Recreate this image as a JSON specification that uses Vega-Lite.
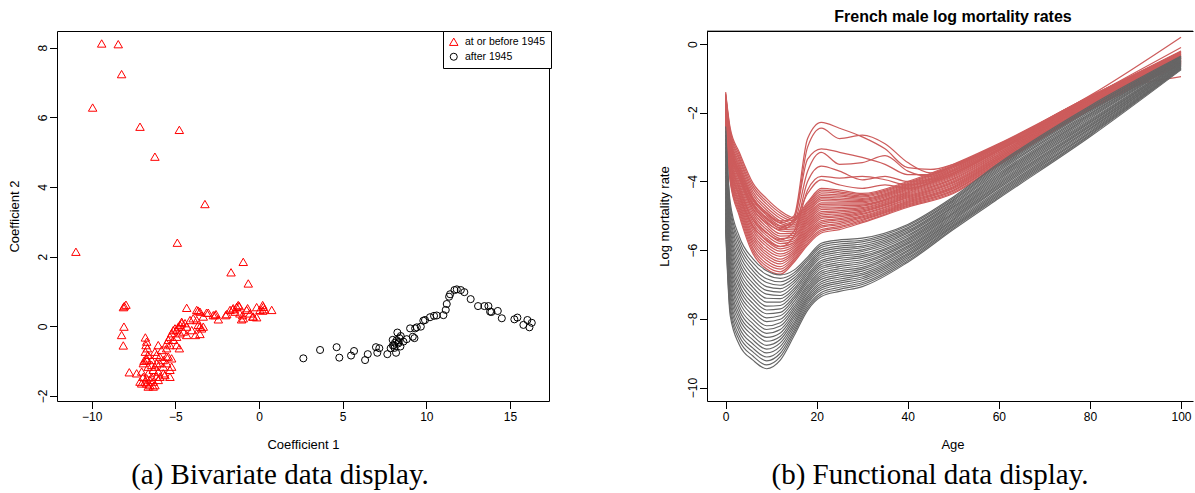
{
"$schema": "https://vega.github.io/schema/vega-lite/v6.json",
"padding": {"left": 8, "top": 8, "right": 0, "bottom": 0},
"background": "white",
"config": {
  "font": "Liberation Sans",
  "view": {"stroke": "black", "strokeWidth": 1},
  "axis": {"grid": false, "domain": false, "domainColor": "black", "domainWidth": 1, "tickColor": "black", "tickSize": 7.5, "tickWidth": 1, "labelColor": "black", "labelFont": "Liberation Sans", "labelFontSize": 12, "labelPadding": 3, "labelFlush": false, "labelOverlap": false, "titleFont": "Liberation Sans", "titleFontSize": 13, "titleFontWeight": "normal", "titleColor": "black"},
  "axisX": {"titleY": 47, "titleBaseline": "alphabetic"},
  "axisY": {"labelAngle": -90, "labelAlign": "center", "labelBaseline": "alphabetic", "titleAngle": -90, "titleX": -38.5, "titleY": 185, "titleAlign": "center", "titleBaseline": "alphabetic"},
  "legend": {"orient": "none", "legendX": 386, "legendY": 0, "padding": 5.5, "strokeColor": "black", "fillColor": "white", "labelFont": "Liberation Sans", "labelFontSize": 10.5, "labelColor": "black", "symbolSize": 45, "symbolStrokeWidth": 1, "labelOffset": 6, "rowPadding": 3, "cornerRadius": 0}
},
"datasets": {
"pts": [
{"x":-9.40,"y":8.12,"p":"at or before 1945"},{"x":-8.41,"y":8.10,"p":"at or before 1945"},{"x":-8.21,"y":7.24,"p":"at or before 1945"},{"x":-9.94,"y":6.28,"p":"at or before 1945"},{"x":-7.11,"y":5.73,"p":"at or before 1945"},{"x":-4.76,"y":5.64,"p":"at or before 1945"},{"x":-6.22,"y":4.87,"p":"at or before 1945"},{"x":-3.23,"y":3.51,"p":"at or before 1945"},{"x":-4.88,"y":2.40,"p":"at or before 1945"},{"x":-10.94,"y":2.14,"p":"at or before 1945"},
{"x":-1.67,"y":1.55,"p":"at or before 1945"},{"x":-0.94,"y":1.85,"p":"at or before 1945"},{"x":-0.64,"y":1.23,"p":"at or before 1945"},{"x":-4.32,"y":0.53,"p":"at or before 1945"},{"x":-8.05,"y":0.58,"p":"at or before 1945"},{"x":-7.95,"y":0.62,"p":"at or before 1945"},{"x":-8.10,"y":0.55,"p":"at or before 1945"},{"x":-8.07,"y":-0.01,"p":"at or before 1945"},{"x":-8.21,"y":-0.25,"p":"at or before 1945"},{"x":-8.11,"y":-0.55,"p":"at or before 1945"},
{"x":-7.75,"y":-1.32,"p":"at or before 1945"},{"x":-7.31,"y":-1.35,"p":"at or before 1945"},{"x":-3.63,"y":0.45,"p":"at or before 1945"},{"x":-3.13,"y":0.39,"p":"at or before 1945"},{"x":-2.63,"y":0.32,"p":"at or before 1945"},{"x":-2.43,"y":0.20,"p":"at or before 1945"},{"x":-1.99,"y":0.32,"p":"at or before 1945"},{"x":-1.57,"y":0.49,"p":"at or before 1945"},{"x":-1.33,"y":0.56,"p":"at or before 1945"},{"x":-1.18,"y":0.58,"p":"at or before 1945"},
{"x":-1.43,"y":0.42,"p":"at or before 1945"},{"x":-0.98,"y":0.32,"p":"at or before 1945"},{"x":-1.04,"y":0.20,"p":"at or before 1945"},{"x":-0.68,"y":0.52,"p":"at or before 1945"},{"x":-0.54,"y":0.37,"p":"at or before 1945"},{"x":-0.38,"y":0.28,"p":"at or before 1945"},{"x":-0.14,"y":0.26,"p":"at or before 1945"},{"x":-0.14,"y":0.55,"p":"at or before 1945"},{"x":0.22,"y":0.61,"p":"at or before 1945"},{"x":0.32,"y":0.49,"p":"at or before 1945"},
{"x":0.76,"y":0.47,"p":"at or before 1945"},{"x":0.22,"y":0.45,"p":"at or before 1945"},{"x":-7.11,"y":-1.59,"p":"at or before 1945"},{"x":-7.01,"y":-1.64,"p":"at or before 1945"},{"x":-6.71,"y":-1.64,"p":"at or before 1945"},{"x":-6.62,"y":-1.73,"p":"at or before 1945"},{"x":-6.52,"y":-1.69,"p":"at or before 1945"},{"x":-6.32,"y":-1.73,"p":"at or before 1945"},{"x":-6.22,"y":-1.69,"p":"at or before 1945"},{"x":-6.12,"y":-1.45,"p":"at or before 1945"},
{"x":-6.41,"y":-1.45,"p":"at or before 1945"},{"x":-6.62,"y":-1.35,"p":"at or before 1945"},{"x":-6.32,"y":-1.25,"p":"at or before 1945"},{"x":-6.02,"y":-1.30,"p":"at or before 1945"},{"x":-5.72,"y":-1.16,"p":"at or before 1945"},{"x":-5.52,"y":-1.06,"p":"at or before 1945"},{"x":-5.32,"y":-1.25,"p":"at or before 1945"},{"x":-5.22,"y":-1.16,"p":"at or before 1945"},{"x":-5.52,"y":-0.87,"p":"at or before 1945"},{"x":-5.72,"y":-0.97,"p":"at or before 1945"},
{"x":-5.92,"y":-0.87,"p":"at or before 1945"},{"x":-6.12,"y":-0.82,"p":"at or before 1945"},{"x":-6.41,"y":-0.97,"p":"at or before 1945"},{"x":-6.71,"y":-0.97,"p":"at or before 1945"},{"x":-5.22,"y":-0.92,"p":"at or before 1945"},{"x":-5.32,"y":-1.45,"p":"at or before 1945"},{"x":-5.52,"y":-0.49,"p":"at or before 1945"},{"x":-5.42,"y":-0.39,"p":"at or before 1945"},{"x":-5.32,"y":-0.30,"p":"at or before 1945"},{"x":-5.22,"y":-0.20,"p":"at or before 1945"},
{"x":-5.12,"y":-0.11,"p":"at or before 1945"},{"x":-5.02,"y":-0.06,"p":"at or before 1945"},{"x":-4.92,"y":-0.11,"p":"at or before 1945"},{"x":-4.82,"y":-0.01,"p":"at or before 1945"},{"x":-4.72,"y":0.04,"p":"at or before 1945"},{"x":-4.62,"y":0.09,"p":"at or before 1945"},{"x":-4.92,"y":-0.30,"p":"at or before 1945"},{"x":-5.12,"y":-0.39,"p":"at or before 1945"},{"x":-4.72,"y":-0.20,"p":"at or before 1945"},{"x":-5.52,"y":-0.63,"p":"at or before 1945"},
{"x":-5.32,"y":-0.54,"p":"at or before 1945"},{"x":-4.92,"y":-0.54,"p":"at or before 1945"},{"x":-4.76,"y":-0.63,"p":"at or before 1945"},{"x":-4.62,"y":0.13,"p":"at or before 1945"},{"x":-4.42,"y":0.09,"p":"at or before 1945"},{"x":-4.32,"y":-0.01,"p":"at or before 1945"},{"x":-4.12,"y":0.18,"p":"at or before 1945"},{"x":-4.02,"y":-0.11,"p":"at or before 1945"},{"x":-3.93,"y":0.23,"p":"at or before 1945"},{"x":-3.72,"y":0.18,"p":"at or before 1945"},
{"x":-3.63,"y":0.04,"p":"at or before 1945"},{"x":-3.53,"y":-0.01,"p":"at or before 1945"},{"x":-3.43,"y":-0.06,"p":"at or before 1945"},{"x":-3.72,"y":0.47,"p":"at or before 1945"},{"x":-3.53,"y":0.42,"p":"at or before 1945"},{"x":-3.33,"y":0.28,"p":"at or before 1945"},{"x":-3.80,"y":-0.25,"p":"at or before 1945"},{"x":-3.53,"y":-0.22,"p":"at or before 1945"},{"x":-3.33,"y":-0.01,"p":"at or before 1945"},{"x":-4.32,"y":-0.25,"p":"at or before 1945"},
{"x":-4.52,"y":-0.15,"p":"at or before 1945"},{"x":-3.03,"y":0.39,"p":"at or before 1945"},{"x":-2.73,"y":0.32,"p":"at or before 1945"},{"x":-2.57,"y":0.35,"p":"at or before 1945"},{"x":-1.93,"y":0.35,"p":"at or before 1945"},{"x":-1.73,"y":0.47,"p":"at or before 1945"},{"x":-1.54,"y":0.52,"p":"at or before 1945"},{"x":-1.24,"y":0.61,"p":"at or before 1945"},{"x":-1.14,"y":0.37,"p":"at or before 1945"},{"x":-0.94,"y":0.23,"p":"at or before 1945"},
{"x":-0.74,"y":0.47,"p":"at or before 1945"},{"x":-0.34,"y":0.28,"p":"at or before 1945"},{"x":0.06,"y":0.47,"p":"at or before 1945"},{"x":0.26,"y":0.56,"p":"at or before 1945"},{"x":-6.79,"y":-0.32,"p":"at or before 1945"},{"x":-6.71,"y":-0.44,"p":"at or before 1945"},{"x":-6.75,"y":-0.54,"p":"at or before 1945"},{"x":-6.67,"y":-0.63,"p":"at or before 1945"},{"x":-6.79,"y":-0.73,"p":"at or before 1945"},{"x":-6.63,"y":-0.82,"p":"at or before 1945"},
{"x":-6.71,"y":-0.92,"p":"at or before 1945"},{"x":-6.87,"y":-0.99,"p":"at or before 1945"},{"x":-6.91,"y":-1.06,"p":"at or before 1945"},{"x":-7.01,"y":-1.30,"p":"at or before 1945"},{"x":-6.91,"y":-1.45,"p":"at or before 1945"},{"x":-6.71,"y":-1.49,"p":"at or before 1945"},{"x":-6.81,"y":-1.59,"p":"at or before 1945"},{"x":-6.52,"y":-1.54,"p":"at or before 1945"},{"x":-6.32,"y":-1.59,"p":"at or before 1945"},{"x":-6.62,"y":-1.16,"p":"at or before 1945"},
{"x":-6.41,"y":-1.11,"p":"at or before 1945"},{"x":-6.22,"y":-1.16,"p":"at or before 1945"},{"x":-6.12,"y":-1.06,"p":"at or before 1945"},{"x":-5.92,"y":-1.06,"p":"at or before 1945"},{"x":-5.72,"y":-1.35,"p":"at or before 1945"},{"x":-5.92,"y":-1.45,"p":"at or before 1945"},{"x":-6.02,"y":-1.54,"p":"at or before 1945"},{"x":-5.62,"y":-1.40,"p":"at or before 1945"},{"x":-5.42,"y":-0.87,"p":"at or before 1945"},{"x":-5.82,"y":-0.68,"p":"at or before 1945"},
{"x":-6.02,"y":-0.54,"p":"at or before 1945"},{"x":-6.22,"y":-0.73,"p":"at or before 1945"},
{"x":2.65,"y":-0.92,"p":"after 1945"},{"x":3.65,"y":-0.68,"p":"after 1945"},{"x":4.64,"y":-0.60,"p":"after 1945"},{"x":4.80,"y":-0.90,"p":"after 1945"},{"x":5.50,"y":-0.84,"p":"after 1945"},{"x":5.68,"y":-0.71,"p":"after 1945"},{"x":6.34,"y":-0.97,"p":"after 1945"},{"x":6.50,"y":-0.80,"p":"after 1945"},{"x":6.99,"y":-0.60,"p":"after 1945"},{"x":7.07,"y":-0.76,"p":"after 1945"},
{"x":7.19,"y":-0.63,"p":"after 1945"},{"x":7.67,"y":-0.80,"p":"after 1945"},{"x":7.87,"y":-0.63,"p":"after 1945"},{"x":7.99,"y":-0.39,"p":"after 1945"},{"x":8.07,"y":-0.54,"p":"after 1945"},{"x":8.19,"y":-0.76,"p":"after 1945"},{"x":8.27,"y":-0.18,"p":"after 1945"},{"x":8.33,"y":-0.49,"p":"after 1945"},{"x":8.39,"y":-0.34,"p":"after 1945"},{"x":8.47,"y":-0.28,"p":"after 1945"},
{"x":8.13,"y":-0.47,"p":"after 1945"},{"x":8.23,"y":-0.40,"p":"after 1945"},{"x":8.63,"y":-0.44,"p":"after 1945"},{"x":8.83,"y":-0.37,"p":"after 1945"},{"x":9.03,"y":-0.06,"p":"after 1945"},{"x":9.19,"y":-0.30,"p":"after 1945"},{"x":9.29,"y":-0.34,"p":"after 1945"},{"x":9.33,"y":-0.06,"p":"after 1945"},{"x":9.43,"y":-0.03,"p":"after 1945"},{"x":9.67,"y":-0.01,"p":"after 1945"},
{"x":9.82,"y":0.16,"p":"after 1945"},{"x":9.92,"y":0.18,"p":"after 1945"},{"x":10.22,"y":0.26,"p":"after 1945"},{"x":10.46,"y":0.30,"p":"after 1945"},{"x":10.62,"y":0.31,"p":"after 1945"},{"x":11.02,"y":0.32,"p":"after 1945"},{"x":11.16,"y":0.47,"p":"after 1945"},{"x":11.22,"y":0.64,"p":"after 1945"},{"x":11.36,"y":0.85,"p":"after 1945"},{"x":11.42,"y":0.92,"p":"after 1945"},
{"x":11.68,"y":1.04,"p":"after 1945"},{"x":11.82,"y":1.06,"p":"after 1945"},{"x":12.06,"y":1.04,"p":"after 1945"},{"x":12.27,"y":0.98,"p":"after 1945"},{"x":12.65,"y":0.78,"p":"after 1945"},{"x":13.09,"y":0.58,"p":"after 1945"},{"x":13.47,"y":0.58,"p":"after 1945"},{"x":13.71,"y":0.58,"p":"after 1945"},{"x":13.81,"y":0.42,"p":"after 1945"},{"x":13.89,"y":0.41,"p":"after 1945"},
{"x":14.27,"y":0.44,"p":"after 1945"},{"x":14.51,"y":0.23,"p":"after 1945"},{"x":15.26,"y":0.20,"p":"after 1945"},{"x":15.44,"y":0.25,"p":"after 1945"},{"x":15.80,"y":0.04,"p":"after 1945"},{"x":16.04,"y":0.18,"p":"after 1945"},{"x":16.16,"y":-0.03,"p":"after 1945"},{"x":16.30,"y":0.10,"p":"after 1945"},{"x":8.00,"y":-0.55,"p":"after 1945"},{"x":8.10,"y":-0.62,"p":"after 1945"},
{"x":8.35,"y":-0.45,"p":"after 1945"},{"x":8.45,"y":-0.58,"p":"after 1945"}
],
"red": [
{"c":0,"a":0,"v":-1.4},{"c":1,"a":0,"v":-1.44},{"c":2,"a":0,"v":-1.47},{"c":3,"a":0,"v":-1.51},{"c":4,"a":0,"v":-1.54},{"c":5,"a":0,"v":-1.58},{"c":6,"a":0,"v":-1.62},{"c":7,"a":0,"v":-1.65},{"c":8,"a":0,"v":-1.69},{"c":9,"a":0,"v":-1.72},{"c":10,"a":0,"v":-1.76},{"c":11,"a":0,"v":-1.8},{"c":12,"a":0,"v":-1.83},{"c":13,"a":0,"v":-1.87},{"c":14,"a":0,"v":-1.9},{"c":15,"a":0,"v":-1.94},{"c":16,"a":0,"v":-1.98},{"c":17,"a":0,"v":-2.01},{"c":18,"a":0,"v":-2.05},{"c":19,"a":0,"v":-2.08},{"c":20,"a":0,"v":-2.12},{"c":21,"a":0,"v":-2.16},{"c":22,"a":0,"v":-2.19},{"c":23,"a":0,"v":-2.23},{"c":24,"a":0,"v":-2.26},{"c":25,"a":0,"v":-2.3},
{"c":0,"a":1,"v":-2.45},{"c":1,"a":1,"v":-2.51},{"c":2,"a":1,"v":-2.57},{"c":3,"a":1,"v":-2.64},{"c":4,"a":1,"v":-2.7},{"c":5,"a":1,"v":-2.76},{"c":6,"a":1,"v":-2.82},{"c":7,"a":1,"v":-2.88},{"c":8,"a":1,"v":-2.95},{"c":9,"a":1,"v":-3.01},{"c":10,"a":1,"v":-3.07},{"c":11,"a":1,"v":-3.13},{"c":12,"a":1,"v":-3.19},{"c":13,"a":1,"v":-3.26},{"c":14,"a":1,"v":-3.32},{"c":15,"a":1,"v":-3.38},{"c":16,"a":1,"v":-3.44},{"c":17,"a":1,"v":-3.5},{"c":18,"a":1,"v":-3.57},{"c":19,"a":1,"v":-3.63},{"c":20,"a":1,"v":-3.69},{"c":21,"a":1,"v":-3.75},{"c":22,"a":1,"v":-3.81},{"c":23,"a":1,"v":-3.88},{"c":24,"a":1,"v":-3.94},{"c":25,"a":1,"v":-4.0},
{"c":0,"a":3,"v":-3.15},{"c":1,"a":3,"v":-3.22},{"c":2,"a":3,"v":-3.3},{"c":3,"a":3,"v":-3.37},{"c":4,"a":3,"v":-3.45},{"c":5,"a":3,"v":-3.52},{"c":6,"a":3,"v":-3.59},{"c":7,"a":3,"v":-3.67},{"c":8,"a":3,"v":-3.74},{"c":9,"a":3,"v":-3.82},{"c":10,"a":3,"v":-3.89},{"c":11,"a":3,"v":-3.96},{"c":12,"a":3,"v":-4.04},{"c":13,"a":3,"v":-4.11},{"c":14,"a":3,"v":-4.19},{"c":15,"a":3,"v":-4.26},{"c":16,"a":3,"v":-4.33},{"c":17,"a":3,"v":-4.41},{"c":18,"a":3,"v":-4.48},{"c":19,"a":3,"v":-4.56},{"c":20,"a":3,"v":-4.63},{"c":21,"a":3,"v":-4.7},{"c":22,"a":3,"v":-4.78},{"c":23,"a":3,"v":-4.85},{"c":24,"a":3,"v":-4.93},{"c":25,"a":3,"v":-5.0},
{"c":0,"a":6,"v":-4.05},{"c":1,"a":6,"v":-4.13},{"c":2,"a":6,"v":-4.21},{"c":3,"a":6,"v":-4.3},{"c":4,"a":6,"v":-4.38},{"c":5,"a":6,"v":-4.46},{"c":6,"a":6,"v":-4.54},{"c":7,"a":6,"v":-4.62},{"c":8,"a":6,"v":-4.71},{"c":9,"a":6,"v":-4.79},{"c":10,"a":6,"v":-4.87},{"c":11,"a":6,"v":-4.95},{"c":12,"a":6,"v":-5.03},{"c":13,"a":6,"v":-5.12},{"c":14,"a":6,"v":-5.2},{"c":15,"a":6,"v":-5.28},{"c":16,"a":6,"v":-5.36},{"c":17,"a":6,"v":-5.44},{"c":18,"a":6,"v":-5.53},{"c":19,"a":6,"v":-5.61},{"c":20,"a":6,"v":-5.69},{"c":21,"a":6,"v":-5.77},{"c":22,"a":6,"v":-5.85},{"c":23,"a":6,"v":-5.94},{"c":24,"a":6,"v":-6.02},{"c":25,"a":6,"v":-6.1},
{"c":0,"a":9,"v":-4.5},{"c":1,"a":9,"v":-4.58},{"c":2,"a":9,"v":-4.66},{"c":3,"a":9,"v":-4.75},{"c":4,"a":9,"v":-4.83},{"c":5,"a":9,"v":-4.91},{"c":6,"a":9,"v":-4.99},{"c":7,"a":9,"v":-5.07},{"c":8,"a":9,"v":-5.16},{"c":9,"a":9,"v":-5.24},{"c":10,"a":9,"v":-5.32},{"c":11,"a":9,"v":-5.4},{"c":12,"a":9,"v":-5.48},{"c":13,"a":9,"v":-5.57},{"c":14,"a":9,"v":-5.65},{"c":15,"a":9,"v":-5.73},{"c":16,"a":9,"v":-5.81},{"c":17,"a":9,"v":-5.89},{"c":18,"a":9,"v":-5.98},{"c":19,"a":9,"v":-6.06},{"c":20,"a":9,"v":-6.14},{"c":21,"a":9,"v":-6.22},{"c":22,"a":9,"v":-6.3},{"c":23,"a":9,"v":-6.39},{"c":24,"a":9,"v":-6.47},{"c":25,"a":9,"v":-6.55},
{"c":0,"a":12,"v":-4.85},{"c":1,"a":12,"v":-4.92},{"c":2,"a":12,"v":-5.0},{"c":3,"a":12,"v":-5.07},{"c":4,"a":12,"v":-5.15},{"c":5,"a":12,"v":-5.22},{"c":6,"a":12,"v":-5.29},{"c":7,"a":12,"v":-5.37},{"c":8,"a":12,"v":-5.44},{"c":9,"a":12,"v":-5.52},{"c":10,"a":12,"v":-5.59},{"c":11,"a":12,"v":-5.66},{"c":12,"a":12,"v":-5.74},{"c":13,"a":12,"v":-5.81},{"c":14,"a":12,"v":-5.89},{"c":15,"a":12,"v":-5.96},{"c":16,"a":12,"v":-6.03},{"c":17,"a":12,"v":-6.11},{"c":18,"a":12,"v":-6.18},{"c":19,"a":12,"v":-6.26},{"c":20,"a":12,"v":-6.33},{"c":21,"a":12,"v":-6.4},{"c":22,"a":12,"v":-6.48},{"c":23,"a":12,"v":-6.55},{"c":24,"a":12,"v":-6.63},{"c":25,"a":12,"v":-6.7},
{"c":0,"a":15,"v":-5.05},{"c":1,"a":15,"v":-5.1},{"c":2,"a":15,"v":-5.15},{"c":3,"a":15,"v":-5.21},{"c":4,"a":15,"v":-5.26},{"c":5,"a":15,"v":-5.31},{"c":6,"a":15,"v":-5.36},{"c":7,"a":15,"v":-5.41},{"c":8,"a":15,"v":-5.47},{"c":9,"a":15,"v":-5.52},{"c":10,"a":15,"v":-5.57},{"c":11,"a":15,"v":-5.62},{"c":12,"a":15,"v":-5.67},{"c":13,"a":15,"v":-5.73},{"c":14,"a":15,"v":-5.78},{"c":15,"a":15,"v":-5.83},{"c":16,"a":15,"v":-5.88},{"c":17,"a":15,"v":-5.93},{"c":18,"a":15,"v":-5.99},{"c":19,"a":15,"v":-6.04},{"c":20,"a":15,"v":-6.09},{"c":21,"a":15,"v":-6.14},{"c":22,"a":15,"v":-6.19},{"c":23,"a":15,"v":-6.25},{"c":24,"a":15,"v":-6.3},{"c":25,"a":15,"v":-6.35},
{"c":0,"a":18,"v":-4.6},{"c":1,"a":18,"v":-4.65},{"c":2,"a":18,"v":-4.7},{"c":3,"a":18,"v":-4.75},{"c":4,"a":18,"v":-4.8},{"c":5,"a":18,"v":-4.85},{"c":6,"a":18,"v":-4.9},{"c":7,"a":18,"v":-4.95},{"c":8,"a":18,"v":-5.0},{"c":9,"a":18,"v":-5.05},{"c":10,"a":18,"v":-5.1},{"c":11,"a":18,"v":-5.15},{"c":12,"a":18,"v":-5.2},{"c":13,"a":18,"v":-5.25},{"c":14,"a":18,"v":-5.3},{"c":15,"a":18,"v":-5.35},{"c":16,"a":18,"v":-5.4},{"c":17,"a":18,"v":-5.45},{"c":18,"a":18,"v":-5.5},{"c":19,"a":18,"v":-5.55},{"c":20,"a":18,"v":-5.6},{"c":21,"a":18,"v":-5.65},{"c":22,"a":18,"v":-5.7},{"c":23,"a":18,"v":-5.75},{"c":24,"a":18,"v":-5.8},{"c":25,"a":18,"v":-5.85},
{"c":0,"a":21,"v":-4.2},{"c":1,"a":21,"v":-4.25},{"c":2,"a":21,"v":-4.3},{"c":3,"a":21,"v":-4.36},{"c":4,"a":21,"v":-4.41},{"c":5,"a":21,"v":-4.46},{"c":6,"a":21,"v":-4.51},{"c":7,"a":21,"v":-4.56},{"c":8,"a":21,"v":-4.62},{"c":9,"a":21,"v":-4.67},{"c":10,"a":21,"v":-4.72},{"c":11,"a":21,"v":-4.77},{"c":12,"a":21,"v":-4.82},{"c":13,"a":21,"v":-4.88},{"c":14,"a":21,"v":-4.93},{"c":15,"a":21,"v":-4.98},{"c":16,"a":21,"v":-5.03},{"c":17,"a":21,"v":-5.08},{"c":18,"a":21,"v":-5.14},{"c":19,"a":21,"v":-5.19},{"c":20,"a":21,"v":-5.24},{"c":21,"a":21,"v":-5.29},{"c":22,"a":21,"v":-5.34},{"c":23,"a":21,"v":-5.4},{"c":24,"a":21,"v":-5.45},{"c":25,"a":21,"v":-5.5},
{"c":0,"a":25,"v":-4.25},{"c":1,"a":25,"v":-4.3},{"c":2,"a":25,"v":-4.34},{"c":3,"a":25,"v":-4.39},{"c":4,"a":25,"v":-4.43},{"c":5,"a":25,"v":-4.48},{"c":6,"a":25,"v":-4.53},{"c":7,"a":25,"v":-4.57},{"c":8,"a":25,"v":-4.62},{"c":9,"a":25,"v":-4.66},{"c":10,"a":25,"v":-4.71},{"c":11,"a":25,"v":-4.76},{"c":12,"a":25,"v":-4.8},{"c":13,"a":25,"v":-4.85},{"c":14,"a":25,"v":-4.89},{"c":15,"a":25,"v":-4.94},{"c":16,"a":25,"v":-4.99},{"c":17,"a":25,"v":-5.03},{"c":18,"a":25,"v":-5.08},{"c":19,"a":25,"v":-5.12},{"c":20,"a":25,"v":-5.17},{"c":21,"a":25,"v":-5.22},{"c":22,"a":25,"v":-5.26},{"c":23,"a":25,"v":-5.31},{"c":24,"a":25,"v":-5.35},{"c":25,"a":25,"v":-5.4},
{"c":0,"a":30,"v":-4.35},{"c":1,"a":30,"v":-4.38},{"c":2,"a":30,"v":-4.42},{"c":3,"a":30,"v":-4.45},{"c":4,"a":30,"v":-4.49},{"c":5,"a":30,"v":-4.52},{"c":6,"a":30,"v":-4.55},{"c":7,"a":30,"v":-4.59},{"c":8,"a":30,"v":-4.62},{"c":9,"a":30,"v":-4.66},{"c":10,"a":30,"v":-4.69},{"c":11,"a":30,"v":-4.72},{"c":12,"a":30,"v":-4.76},{"c":13,"a":30,"v":-4.79},{"c":14,"a":30,"v":-4.83},{"c":15,"a":30,"v":-4.86},{"c":16,"a":30,"v":-4.89},{"c":17,"a":30,"v":-4.93},{"c":18,"a":30,"v":-4.96},{"c":19,"a":30,"v":-5.0},{"c":20,"a":30,"v":-5.03},{"c":21,"a":30,"v":-5.06},{"c":22,"a":30,"v":-5.1},{"c":23,"a":30,"v":-5.13},{"c":24,"a":30,"v":-5.17},{"c":25,"a":30,"v":-5.2},
{"c":0,"a":40,"v":-4.0},{"c":1,"a":40,"v":-4.03},{"c":2,"a":40,"v":-4.06},{"c":3,"a":40,"v":-4.09},{"c":4,"a":40,"v":-4.12},{"c":5,"a":40,"v":-4.15},{"c":6,"a":40,"v":-4.18},{"c":7,"a":40,"v":-4.21},{"c":8,"a":40,"v":-4.24},{"c":9,"a":40,"v":-4.27},{"c":10,"a":40,"v":-4.3},{"c":11,"a":40,"v":-4.33},{"c":12,"a":40,"v":-4.36},{"c":13,"a":40,"v":-4.39},{"c":14,"a":40,"v":-4.42},{"c":15,"a":40,"v":-4.45},{"c":16,"a":40,"v":-4.48},{"c":17,"a":40,"v":-4.51},{"c":18,"a":40,"v":-4.54},{"c":19,"a":40,"v":-4.57},{"c":20,"a":40,"v":-4.6},{"c":21,"a":40,"v":-4.63},{"c":22,"a":40,"v":-4.66},{"c":23,"a":40,"v":-4.69},{"c":24,"a":40,"v":-4.72},{"c":25,"a":40,"v":-4.75},
{"c":0,"a":50,"v":-3.5},{"c":1,"a":50,"v":-3.53},{"c":2,"a":50,"v":-3.57},{"c":3,"a":50,"v":-3.6},{"c":4,"a":50,"v":-3.64},{"c":5,"a":50,"v":-3.67},{"c":6,"a":50,"v":-3.7},{"c":7,"a":50,"v":-3.74},{"c":8,"a":50,"v":-3.77},{"c":9,"a":50,"v":-3.81},{"c":10,"a":50,"v":-3.84},{"c":11,"a":50,"v":-3.87},{"c":12,"a":50,"v":-3.91},{"c":13,"a":50,"v":-3.94},{"c":14,"a":50,"v":-3.98},{"c":15,"a":50,"v":-4.01},{"c":16,"a":50,"v":-4.04},{"c":17,"a":50,"v":-4.08},{"c":18,"a":50,"v":-4.11},{"c":19,"a":50,"v":-4.15},{"c":20,"a":50,"v":-4.18},{"c":21,"a":50,"v":-4.21},{"c":22,"a":50,"v":-4.25},{"c":23,"a":50,"v":-4.28},{"c":24,"a":50,"v":-4.32},{"c":25,"a":50,"v":-4.35},
{"c":0,"a":60,"v":-2.9},{"c":1,"a":60,"v":-2.92},{"c":2,"a":60,"v":-2.95},{"c":3,"a":60,"v":-2.97},{"c":4,"a":60,"v":-3.0},{"c":5,"a":60,"v":-3.02},{"c":6,"a":60,"v":-3.05},{"c":7,"a":60,"v":-3.07},{"c":8,"a":60,"v":-3.1},{"c":9,"a":60,"v":-3.12},{"c":10,"a":60,"v":-3.15},{"c":11,"a":60,"v":-3.17},{"c":12,"a":60,"v":-3.2},{"c":13,"a":60,"v":-3.22},{"c":14,"a":60,"v":-3.25},{"c":15,"a":60,"v":-3.27},{"c":16,"a":60,"v":-3.3},{"c":17,"a":60,"v":-3.32},{"c":18,"a":60,"v":-3.35},{"c":19,"a":60,"v":-3.37},{"c":20,"a":60,"v":-3.4},{"c":21,"a":60,"v":-3.42},{"c":22,"a":60,"v":-3.45},{"c":23,"a":60,"v":-3.47},{"c":24,"a":60,"v":-3.5},{"c":25,"a":60,"v":-3.52},
{"c":0,"a":80,"v":-1.53},{"c":1,"a":80,"v":-1.55},{"c":2,"a":80,"v":-1.56},{"c":3,"a":80,"v":-1.58},{"c":4,"a":80,"v":-1.59},{"c":5,"a":80,"v":-1.61},{"c":6,"a":80,"v":-1.62},{"c":7,"a":80,"v":-1.64},{"c":8,"a":80,"v":-1.65},{"c":9,"a":80,"v":-1.67},{"c":10,"a":80,"v":-1.69},{"c":11,"a":80,"v":-1.7},{"c":12,"a":80,"v":-1.72},{"c":13,"a":80,"v":-1.73},{"c":14,"a":80,"v":-1.75},{"c":15,"a":80,"v":-1.76},{"c":16,"a":80,"v":-1.78},{"c":17,"a":80,"v":-1.8},{"c":18,"a":80,"v":-1.81},{"c":19,"a":80,"v":-1.83},{"c":20,"a":80,"v":-1.84},{"c":21,"a":80,"v":-1.86},{"c":22,"a":80,"v":-1.87},{"c":23,"a":80,"v":-1.89},{"c":24,"a":80,"v":-1.9},{"c":25,"a":80,"v":-1.92},
{"c":0,"a":100,"v":-0.2},{"c":1,"a":100,"v":-0.22},{"c":2,"a":100,"v":-0.23},{"c":3,"a":100,"v":-0.25},{"c":4,"a":100,"v":-0.26},{"c":5,"a":100,"v":-0.28},{"c":6,"a":100,"v":-0.3},{"c":7,"a":100,"v":-0.31},{"c":8,"a":100,"v":-0.33},{"c":9,"a":100,"v":-0.34},{"c":10,"a":100,"v":-0.36},{"c":11,"a":100,"v":-0.38},{"c":12,"a":100,"v":-0.39},{"c":13,"a":100,"v":-0.41},{"c":14,"a":100,"v":-0.42},{"c":15,"a":100,"v":-0.44},{"c":16,"a":100,"v":-0.46},{"c":17,"a":100,"v":-0.47},{"c":18,"a":100,"v":-0.49},{"c":19,"a":100,"v":-0.5},{"c":20,"a":100,"v":-0.52},{"c":21,"a":100,"v":-0.54},{"c":22,"a":100,"v":-0.55},{"c":23,"a":100,"v":-0.57},{"c":24,"a":100,"v":-0.58},{"c":25,"a":100,"v":-0.6},
{"c":26,"a":0,"v":-1.7},{"c":26,"a":1,"v":-2.9},{"c":26,"a":3,"v":-3.7},{"c":26,"a":6,"v":-4.55},{"c":26,"a":9,"v":-4.95},{"c":26,"a":12,"v":-5.2},{"c":26,"a":15,"v":-5.0},{"c":26,"a":18,"v":-2.75},{"c":26,"a":21,"v":-2.28},{"c":26,"a":25,"v":-2.45},{"c":26,"a":30,"v":-2.7},{"c":26,"a":35,"v":-3.05},{"c":26,"a":40,"v":-3.6},{"c":26,"a":45,"v":-3.65},{"c":26,"a":50,"v":-3.5},{"c":26,"a":60,"v":-2.92},{"c":26,"a":80,"v":-1.5},{"c":26,"a":100,"v":0.2},
{"c":27,"a":0,"v":-1.8},{"c":27,"a":1,"v":-3.0},{"c":27,"a":3,"v":-3.8},{"c":27,"a":6,"v":-4.7},{"c":27,"a":9,"v":-5.1},{"c":27,"a":12,"v":-5.35},{"c":27,"a":15,"v":-5.1},{"c":27,"a":18,"v":-3.0},{"c":27,"a":21,"v":-2.45},{"c":27,"a":25,"v":-2.75},{"c":27,"a":30,"v":-2.65},{"c":27,"a":35,"v":-2.9},{"c":27,"a":40,"v":-3.45},{"c":27,"a":45,"v":-3.75},{"c":27,"a":50,"v":-3.55},{"c":27,"a":60,"v":-2.95},{"c":27,"a":80,"v":-1.55},{"c":27,"a":100,"v":-0.1},
{"c":28,"a":0,"v":-1.65},{"c":28,"a":1,"v":-2.8},{"c":28,"a":3,"v":-3.6},{"c":28,"a":6,"v":-4.5},{"c":28,"a":9,"v":-4.9},{"c":28,"a":12,"v":-5.15},{"c":28,"a":15,"v":-5.05},{"c":28,"a":18,"v":-3.35},{"c":28,"a":21,"v":-3.05},{"c":28,"a":25,"v":-3.15},{"c":28,"a":30,"v":-3.3},{"c":28,"a":35,"v":-3.5},{"c":28,"a":40,"v":-3.8},{"c":28,"a":45,"v":-3.8},{"c":28,"a":50,"v":-3.55},{"c":28,"a":60,"v":-2.95},{"c":28,"a":80,"v":-1.52},{"c":28,"a":100,"v":-0.3},
{"c":29,"a":0,"v":-1.9},{"c":29,"a":1,"v":-3.1},{"c":29,"a":3,"v":-3.9},{"c":29,"a":6,"v":-4.8},{"c":29,"a":9,"v":-5.2},{"c":29,"a":12,"v":-5.4},{"c":29,"a":15,"v":-5.2},{"c":29,"a":18,"v":-3.7},{"c":29,"a":21,"v":-3.15},{"c":29,"a":25,"v":-3.5},{"c":29,"a":30,"v":-3.45},{"c":29,"a":35,"v":-3.25},{"c":29,"a":40,"v":-3.7},{"c":29,"a":45,"v":-3.85},{"c":29,"a":50,"v":-3.6},{"c":29,"a":60,"v":-2.98},{"c":29,"a":80,"v":-1.56},{"c":29,"a":100,"v":-0.95},
{"c":30,"a":0,"v":-2.0},{"c":30,"a":1,"v":-3.3},{"c":30,"a":3,"v":-4.2},{"c":30,"a":6,"v":-5.1},{"c":30,"a":9,"v":-5.5},{"c":30,"a":12,"v":-5.7},{"c":30,"a":15,"v":-5.45},{"c":30,"a":18,"v":-4.0},{"c":30,"a":21,"v":-3.55},{"c":30,"a":25,"v":-3.7},{"c":30,"a":30,"v":-3.95},{"c":30,"a":35,"v":-3.85},{"c":30,"a":40,"v":-4.0},{"c":30,"a":45,"v":-3.95},{"c":30,"a":50,"v":-3.7},{"c":30,"a":60,"v":-3.05},{"c":30,"a":80,"v":-1.6},{"c":30,"a":100,"v":-0.35},
{"c":31,"a":0,"v":-2.1},{"c":31,"a":1,"v":-3.5},{"c":31,"a":3,"v":-4.4},{"c":31,"a":6,"v":-5.3},{"c":31,"a":9,"v":-5.7},{"c":31,"a":12,"v":-5.9},{"c":31,"a":15,"v":-5.6},{"c":31,"a":18,"v":-4.25},{"c":31,"a":21,"v":-3.85},{"c":31,"a":25,"v":-3.9},{"c":31,"a":30,"v":-3.85},{"c":31,"a":35,"v":-3.95},{"c":31,"a":40,"v":-4.1},{"c":31,"a":45,"v":-4.0},{"c":31,"a":50,"v":-3.75},{"c":31,"a":60,"v":-3.1},{"c":31,"a":80,"v":-1.65},{"c":31,"a":100,"v":-0.4},
{"c":32,"a":0,"v":-1.75},{"c":32,"a":1,"v":-2.95},{"c":32,"a":3,"v":-3.8},{"c":32,"a":6,"v":-4.65},{"c":32,"a":9,"v":-5.05},{"c":32,"a":12,"v":-5.3},{"c":32,"a":15,"v":-5.15},{"c":32,"a":18,"v":-4.35},{"c":32,"a":21,"v":-3.95},{"c":32,"a":25,"v":-4.1},{"c":32,"a":30,"v":-4.2},{"c":32,"a":35,"v":-4.1},{"c":32,"a":40,"v":-4.2},{"c":32,"a":45,"v":-4.05},{"c":32,"a":50,"v":-3.8},{"c":32,"a":60,"v":-3.1},{"c":32,"a":80,"v":-1.6},{"c":32,"a":100,"v":-0.5}
],
"gray": [
{"c":0,"a":0,"v":-2.4},{"c":1,"a":0,"v":-2.52},{"c":2,"a":0,"v":-2.64},{"c":3,"a":0,"v":-2.76},{"c":4,"a":0,"v":-2.88},{"c":5,"a":0,"v":-3.0},{"c":6,"a":0,"v":-3.12},{"c":7,"a":0,"v":-3.24},{"c":8,"a":0,"v":-3.36},{"c":9,"a":0,"v":-3.48},{"c":10,"a":0,"v":-3.6},{"c":11,"a":0,"v":-3.72},{"c":12,"a":0,"v":-3.84},{"c":13,"a":0,"v":-3.96},{"c":14,"a":0,"v":-4.08},{"c":15,"a":0,"v":-4.2},{"c":16,"a":0,"v":-4.32},{"c":17,"a":0,"v":-4.44},{"c":18,"a":0,"v":-4.56},{"c":19,"a":0,"v":-4.68},{"c":20,"a":0,"v":-4.8},{"c":21,"a":0,"v":-4.92},{"c":22,"a":0,"v":-5.04},{"c":23,"a":0,"v":-5.16},{"c":24,"a":0,"v":-5.28},{"c":25,"a":0,"v":-5.4},
{"c":0,"a":1,"v":-4.6},{"c":1,"a":1,"v":-4.73},{"c":2,"a":1,"v":-4.86},{"c":3,"a":1,"v":-5.0},{"c":4,"a":1,"v":-5.13},{"c":5,"a":1,"v":-5.26},{"c":6,"a":1,"v":-5.39},{"c":7,"a":1,"v":-5.52},{"c":8,"a":1,"v":-5.66},{"c":9,"a":1,"v":-5.79},{"c":10,"a":1,"v":-5.92},{"c":11,"a":1,"v":-6.05},{"c":12,"a":1,"v":-6.18},{"c":13,"a":1,"v":-6.32},{"c":14,"a":1,"v":-6.45},{"c":15,"a":1,"v":-6.58},{"c":16,"a":1,"v":-6.71},{"c":17,"a":1,"v":-6.84},{"c":18,"a":1,"v":-6.98},{"c":19,"a":1,"v":-7.11},{"c":20,"a":1,"v":-7.24},{"c":21,"a":1,"v":-7.37},{"c":22,"a":1,"v":-7.5},{"c":23,"a":1,"v":-7.64},{"c":24,"a":1,"v":-7.77},{"c":25,"a":1,"v":-7.9},
{"c":0,"a":3,"v":-5.6},{"c":1,"a":3,"v":-5.73},{"c":2,"a":3,"v":-5.85},{"c":3,"a":3,"v":-5.98},{"c":4,"a":3,"v":-6.1},{"c":5,"a":3,"v":-6.23},{"c":6,"a":3,"v":-6.36},{"c":7,"a":3,"v":-6.48},{"c":8,"a":3,"v":-6.61},{"c":9,"a":3,"v":-6.73},{"c":10,"a":3,"v":-6.86},{"c":11,"a":3,"v":-6.99},{"c":12,"a":3,"v":-7.11},{"c":13,"a":3,"v":-7.24},{"c":14,"a":3,"v":-7.36},{"c":15,"a":3,"v":-7.49},{"c":16,"a":3,"v":-7.62},{"c":17,"a":3,"v":-7.74},{"c":18,"a":3,"v":-7.87},{"c":19,"a":3,"v":-7.99},{"c":20,"a":3,"v":-8.12},{"c":21,"a":3,"v":-8.25},{"c":22,"a":3,"v":-8.37},{"c":23,"a":3,"v":-8.5},{"c":24,"a":3,"v":-8.62},{"c":25,"a":3,"v":-8.75},
{"c":0,"a":6,"v":-6.25},{"c":1,"a":6,"v":-6.37},{"c":2,"a":6,"v":-6.49},{"c":3,"a":6,"v":-6.6},{"c":4,"a":6,"v":-6.72},{"c":5,"a":6,"v":-6.84},{"c":6,"a":6,"v":-6.96},{"c":7,"a":6,"v":-7.08},{"c":8,"a":6,"v":-7.19},{"c":9,"a":6,"v":-7.31},{"c":10,"a":6,"v":-7.43},{"c":11,"a":6,"v":-7.55},{"c":12,"a":6,"v":-7.67},{"c":13,"a":6,"v":-7.78},{"c":14,"a":6,"v":-7.9},{"c":15,"a":6,"v":-8.02},{"c":16,"a":6,"v":-8.14},{"c":17,"a":6,"v":-8.26},{"c":18,"a":6,"v":-8.37},{"c":19,"a":6,"v":-8.49},{"c":20,"a":6,"v":-8.61},{"c":21,"a":6,"v":-8.73},{"c":22,"a":6,"v":-8.85},{"c":23,"a":6,"v":-8.96},{"c":24,"a":6,"v":-9.08},{"c":25,"a":6,"v":-9.2},
{"c":0,"a":9,"v":-6.6},{"c":1,"a":9,"v":-6.71},{"c":2,"a":9,"v":-6.83},{"c":3,"a":9,"v":-6.94},{"c":4,"a":9,"v":-7.06},{"c":5,"a":9,"v":-7.17},{"c":6,"a":9,"v":-7.28},{"c":7,"a":9,"v":-7.4},{"c":8,"a":9,"v":-7.51},{"c":9,"a":9,"v":-7.63},{"c":10,"a":9,"v":-7.74},{"c":11,"a":9,"v":-7.85},{"c":12,"a":9,"v":-7.97},{"c":13,"a":9,"v":-8.08},{"c":14,"a":9,"v":-8.2},{"c":15,"a":9,"v":-8.31},{"c":16,"a":9,"v":-8.42},{"c":17,"a":9,"v":-8.54},{"c":18,"a":9,"v":-8.65},{"c":19,"a":9,"v":-8.77},{"c":20,"a":9,"v":-8.88},{"c":21,"a":9,"v":-8.99},{"c":22,"a":9,"v":-9.11},{"c":23,"a":9,"v":-9.22},{"c":24,"a":9,"v":-9.34},{"c":25,"a":9,"v":-9.45},
{"c":0,"a":12,"v":-6.72},{"c":1,"a":12,"v":-6.82},{"c":2,"a":12,"v":-6.92},{"c":3,"a":12,"v":-7.02},{"c":4,"a":12,"v":-7.12},{"c":5,"a":12,"v":-7.22},{"c":6,"a":12,"v":-7.32},{"c":7,"a":12,"v":-7.41},{"c":8,"a":12,"v":-7.51},{"c":9,"a":12,"v":-7.61},{"c":10,"a":12,"v":-7.71},{"c":11,"a":12,"v":-7.81},{"c":12,"a":12,"v":-7.91},{"c":13,"a":12,"v":-8.01},{"c":14,"a":12,"v":-8.11},{"c":15,"a":12,"v":-8.21},{"c":16,"a":12,"v":-8.31},{"c":17,"a":12,"v":-8.41},{"c":18,"a":12,"v":-8.51},{"c":19,"a":12,"v":-8.6},{"c":20,"a":12,"v":-8.7},{"c":21,"a":12,"v":-8.8},{"c":22,"a":12,"v":-8.9},{"c":23,"a":12,"v":-9.0},{"c":24,"a":12,"v":-9.1},{"c":25,"a":12,"v":-9.2},
{"c":0,"a":15,"v":-6.58},{"c":1,"a":15,"v":-6.66},{"c":2,"a":15,"v":-6.73},{"c":3,"a":15,"v":-6.81},{"c":4,"a":15,"v":-6.89},{"c":5,"a":15,"v":-6.96},{"c":6,"a":15,"v":-7.04},{"c":7,"a":15,"v":-7.12},{"c":8,"a":15,"v":-7.19},{"c":9,"a":15,"v":-7.27},{"c":10,"a":15,"v":-7.35},{"c":11,"a":15,"v":-7.42},{"c":12,"a":15,"v":-7.5},{"c":13,"a":15,"v":-7.58},{"c":14,"a":15,"v":-7.66},{"c":15,"a":15,"v":-7.73},{"c":16,"a":15,"v":-7.81},{"c":17,"a":15,"v":-7.89},{"c":18,"a":15,"v":-7.96},{"c":19,"a":15,"v":-8.04},{"c":20,"a":15,"v":-8.12},{"c":21,"a":15,"v":-8.19},{"c":22,"a":15,"v":-8.27},{"c":23,"a":15,"v":-8.35},{"c":24,"a":15,"v":-8.42},{"c":25,"a":15,"v":-8.5},
{"c":0,"a":18,"v":-6.2},{"c":1,"a":18,"v":-6.26},{"c":2,"a":18,"v":-6.32},{"c":3,"a":18,"v":-6.39},{"c":4,"a":18,"v":-6.45},{"c":5,"a":18,"v":-6.51},{"c":6,"a":18,"v":-6.57},{"c":7,"a":18,"v":-6.63},{"c":8,"a":18,"v":-6.7},{"c":9,"a":18,"v":-6.76},{"c":10,"a":18,"v":-6.82},{"c":11,"a":18,"v":-6.88},{"c":12,"a":18,"v":-6.94},{"c":13,"a":18,"v":-7.01},{"c":14,"a":18,"v":-7.07},{"c":15,"a":18,"v":-7.13},{"c":16,"a":18,"v":-7.19},{"c":17,"a":18,"v":-7.25},{"c":18,"a":18,"v":-7.32},{"c":19,"a":18,"v":-7.38},{"c":20,"a":18,"v":-7.44},{"c":21,"a":18,"v":-7.5},{"c":22,"a":18,"v":-7.56},{"c":23,"a":18,"v":-7.63},{"c":24,"a":18,"v":-7.69},{"c":25,"a":18,"v":-7.75},
{"c":0,"a":21,"v":-5.8},{"c":1,"a":21,"v":-5.86},{"c":2,"a":21,"v":-5.92},{"c":3,"a":21,"v":-5.99},{"c":4,"a":21,"v":-6.05},{"c":5,"a":21,"v":-6.11},{"c":6,"a":21,"v":-6.17},{"c":7,"a":21,"v":-6.23},{"c":8,"a":21,"v":-6.3},{"c":9,"a":21,"v":-6.36},{"c":10,"a":21,"v":-6.42},{"c":11,"a":21,"v":-6.48},{"c":12,"a":21,"v":-6.54},{"c":13,"a":21,"v":-6.61},{"c":14,"a":21,"v":-6.67},{"c":15,"a":21,"v":-6.73},{"c":16,"a":21,"v":-6.79},{"c":17,"a":21,"v":-6.85},{"c":18,"a":21,"v":-6.92},{"c":19,"a":21,"v":-6.98},{"c":20,"a":21,"v":-7.04},{"c":21,"a":21,"v":-7.1},{"c":22,"a":21,"v":-7.16},{"c":23,"a":21,"v":-7.23},{"c":24,"a":21,"v":-7.29},{"c":25,"a":21,"v":-7.35},
{"c":0,"a":25,"v":-5.7},{"c":1,"a":25,"v":-5.76},{"c":2,"a":25,"v":-5.82},{"c":3,"a":25,"v":-5.88},{"c":4,"a":25,"v":-5.94},{"c":5,"a":25,"v":-6.0},{"c":6,"a":25,"v":-6.06},{"c":7,"a":25,"v":-6.12},{"c":8,"a":25,"v":-6.18},{"c":9,"a":25,"v":-6.24},{"c":10,"a":25,"v":-6.3},{"c":11,"a":25,"v":-6.36},{"c":12,"a":25,"v":-6.42},{"c":13,"a":25,"v":-6.48},{"c":14,"a":25,"v":-6.54},{"c":15,"a":25,"v":-6.6},{"c":16,"a":25,"v":-6.66},{"c":17,"a":25,"v":-6.72},{"c":18,"a":25,"v":-6.78},{"c":19,"a":25,"v":-6.84},{"c":20,"a":25,"v":-6.9},{"c":21,"a":25,"v":-6.96},{"c":22,"a":25,"v":-7.02},{"c":23,"a":25,"v":-7.08},{"c":24,"a":25,"v":-7.14},{"c":25,"a":25,"v":-7.2},
{"c":0,"a":30,"v":-5.65},{"c":1,"a":30,"v":-5.71},{"c":2,"a":30,"v":-5.76},{"c":3,"a":30,"v":-5.82},{"c":4,"a":30,"v":-5.88},{"c":5,"a":30,"v":-5.93},{"c":6,"a":30,"v":-5.99},{"c":7,"a":30,"v":-6.04},{"c":8,"a":30,"v":-6.1},{"c":9,"a":30,"v":-6.16},{"c":10,"a":30,"v":-6.21},{"c":11,"a":30,"v":-6.27},{"c":12,"a":30,"v":-6.33},{"c":13,"a":30,"v":-6.38},{"c":14,"a":30,"v":-6.44},{"c":15,"a":30,"v":-6.5},{"c":16,"a":30,"v":-6.55},{"c":17,"a":30,"v":-6.61},{"c":18,"a":30,"v":-6.67},{"c":19,"a":30,"v":-6.72},{"c":20,"a":30,"v":-6.78},{"c":21,"a":30,"v":-6.83},{"c":22,"a":30,"v":-6.89},{"c":23,"a":30,"v":-6.95},{"c":24,"a":30,"v":-7.0},{"c":25,"a":30,"v":-7.06},
{"c":0,"a":40,"v":-5.25},{"c":1,"a":40,"v":-5.29},{"c":2,"a":40,"v":-5.34},{"c":3,"a":40,"v":-5.38},{"c":4,"a":40,"v":-5.43},{"c":5,"a":40,"v":-5.47},{"c":6,"a":40,"v":-5.51},{"c":7,"a":40,"v":-5.56},{"c":8,"a":40,"v":-5.6},{"c":9,"a":40,"v":-5.65},{"c":10,"a":40,"v":-5.69},{"c":11,"a":40,"v":-5.73},{"c":12,"a":40,"v":-5.78},{"c":13,"a":40,"v":-5.82},{"c":14,"a":40,"v":-5.87},{"c":15,"a":40,"v":-5.91},{"c":16,"a":40,"v":-5.95},{"c":17,"a":40,"v":-6.0},{"c":18,"a":40,"v":-6.04},{"c":19,"a":40,"v":-6.09},{"c":20,"a":40,"v":-6.13},{"c":21,"a":40,"v":-6.17},{"c":22,"a":40,"v":-6.22},{"c":23,"a":40,"v":-6.26},{"c":24,"a":40,"v":-6.31},{"c":25,"a":40,"v":-6.35},
{"c":0,"a":50,"v":-4.45},{"c":1,"a":50,"v":-4.49},{"c":2,"a":50,"v":-4.53},{"c":3,"a":50,"v":-4.56},{"c":4,"a":50,"v":-4.6},{"c":5,"a":50,"v":-4.64},{"c":6,"a":50,"v":-4.68},{"c":7,"a":50,"v":-4.72},{"c":8,"a":50,"v":-4.75},{"c":9,"a":50,"v":-4.79},{"c":10,"a":50,"v":-4.83},{"c":11,"a":50,"v":-4.87},{"c":12,"a":50,"v":-4.91},{"c":13,"a":50,"v":-4.94},{"c":14,"a":50,"v":-4.98},{"c":15,"a":50,"v":-5.02},{"c":16,"a":50,"v":-5.06},{"c":17,"a":50,"v":-5.1},{"c":18,"a":50,"v":-5.13},{"c":19,"a":50,"v":-5.17},{"c":20,"a":50,"v":-5.21},{"c":21,"a":50,"v":-5.25},{"c":22,"a":50,"v":-5.29},{"c":23,"a":50,"v":-5.32},{"c":24,"a":50,"v":-5.36},{"c":25,"a":50,"v":-5.4},
{"c":0,"a":60,"v":-3.47},{"c":1,"a":60,"v":-3.51},{"c":2,"a":60,"v":-3.55},{"c":3,"a":60,"v":-3.59},{"c":4,"a":60,"v":-3.63},{"c":5,"a":60,"v":-3.67},{"c":6,"a":60,"v":-3.71},{"c":7,"a":60,"v":-3.76},{"c":8,"a":60,"v":-3.8},{"c":9,"a":60,"v":-3.84},{"c":10,"a":60,"v":-3.88},{"c":11,"a":60,"v":-3.92},{"c":12,"a":60,"v":-3.96},{"c":13,"a":60,"v":-4.0},{"c":14,"a":60,"v":-4.04},{"c":15,"a":60,"v":-4.08},{"c":16,"a":60,"v":-4.12},{"c":17,"a":60,"v":-4.16},{"c":18,"a":60,"v":-4.2},{"c":19,"a":60,"v":-4.25},{"c":20,"a":60,"v":-4.29},{"c":21,"a":60,"v":-4.33},{"c":22,"a":60,"v":-4.37},{"c":23,"a":60,"v":-4.41},{"c":24,"a":60,"v":-4.45},{"c":25,"a":60,"v":-4.49},
{"c":0,"a":80,"v":-1.8},{"c":1,"a":80,"v":-1.84},{"c":2,"a":80,"v":-1.87},{"c":3,"a":80,"v":-1.91},{"c":4,"a":80,"v":-1.94},{"c":5,"a":80,"v":-1.98},{"c":6,"a":80,"v":-2.02},{"c":7,"a":80,"v":-2.05},{"c":8,"a":80,"v":-2.09},{"c":9,"a":80,"v":-2.12},{"c":10,"a":80,"v":-2.16},{"c":11,"a":80,"v":-2.2},{"c":12,"a":80,"v":-2.23},{"c":13,"a":80,"v":-2.27},{"c":14,"a":80,"v":-2.3},{"c":15,"a":80,"v":-2.34},{"c":16,"a":80,"v":-2.38},{"c":17,"a":80,"v":-2.41},{"c":18,"a":80,"v":-2.45},{"c":19,"a":80,"v":-2.48},{"c":20,"a":80,"v":-2.52},{"c":21,"a":80,"v":-2.56},{"c":22,"a":80,"v":-2.59},{"c":23,"a":80,"v":-2.63},{"c":24,"a":80,"v":-2.66},{"c":25,"a":80,"v":-2.7},
{"c":0,"a":100,"v":-0.35},{"c":1,"a":100,"v":-0.37},{"c":2,"a":100,"v":-0.38},{"c":3,"a":100,"v":-0.4},{"c":4,"a":100,"v":-0.41},{"c":5,"a":100,"v":-0.43},{"c":6,"a":100,"v":-0.45},{"c":7,"a":100,"v":-0.46},{"c":8,"a":100,"v":-0.48},{"c":9,"a":100,"v":-0.49},{"c":10,"a":100,"v":-0.51},{"c":11,"a":100,"v":-0.53},{"c":12,"a":100,"v":-0.54},{"c":13,"a":100,"v":-0.56},{"c":14,"a":100,"v":-0.57},{"c":15,"a":100,"v":-0.59},{"c":16,"a":100,"v":-0.61},{"c":17,"a":100,"v":-0.62},{"c":18,"a":100,"v":-0.64},{"c":19,"a":100,"v":-0.65},{"c":20,"a":100,"v":-0.67},{"c":21,"a":100,"v":-0.69},{"c":22,"a":100,"v":-0.7},{"c":23,"a":100,"v":-0.72},{"c":24,"a":100,"v":-0.73},{"c":25,"a":100,"v":-0.75}
]
},
"spacing": 158,
"bounds": "flush",
"hconcat": [
{
  "width": 492, "height": 370,
  "data": {"name": "pts"},
  "title": {"text": "(a) Bivariate data display.", "orient": "bottom", "anchor": "middle", "frame": "group", "offset": 10, "baseline": "top", "font": "Liberation Serif", "fontSize": 29, "fontWeight": "normal", "color": "black", "dx": -23},
  "mark": {"type": "point", "filled": false, "strokeWidth": 1, "opacity": 1},
  "encoding": {
    "x": {"field": "x", "type": "quantitative", "scale": {"domain": [-12.07, 17.33], "nice": false, "zero": false}, "axis": {"title": "Coefficient 1", "values": [-10, -5, 0, 5, 10, 15]}},
    "y": {"field": "y", "type": "quantitative", "scale": {"domain": [-2.145, 8.478], "nice": false, "zero": false}, "axis": {"title": "Coefficient 2", "values": [-2, 0, 2, 4, 6, 8]}},
    "color": {"field": "p", "type": "nominal", "scale": {"domain": ["at or before 1945", "after 1945"], "range": ["#FF0000", "#000000"]}, "legend": {"title": null, "orient": "none", "legendX": 386, "legendY": 0}},
    "shape": {"field": "p", "type": "nominal", "scale": {"domain": ["at or before 1945", "after 1945"], "range": ["triangle-up", "circle"]}, "legend": {"title": null, "orient": "none", "legendX": 386, "legendY": 0}},
    "size": {"field": "p", "type": "nominal", "scale": {"domain": ["at or before 1945", "after 1945"], "range": [72, 50]}, "legend": null}
  }
},
{
  "width": 486, "height": 370,
  "view": {"stroke": null},
  "title": {"text": "(b) Functional data display.", "orient": "bottom", "anchor": "middle", "frame": "group", "offset": 10, "baseline": "top", "font": "Liberation Serif", "fontSize": 29, "fontWeight": "normal", "color": "black", "dx": -20},
  "layer": [
    {
      "data": {"name": "red"},
      "mark": {"type": "line", "color": "#CD5C5C", "strokeWidth": 1.25, "interpolate": "monotone", "clip": true},
      "encoding": {
        "x": {"field": "a", "type": "quantitative", "scale": {"domain": [-4.09, 102.63], "nice": false, "zero": false}, "axis": {"orient": "bottom", "title": "Age", "values": [0, 20, 40, 60, 80, 100], "domain": true, "titleX": 245.5}},
        "y": {"field": "v", "type": "quantitative", "scale": {"domain": [-10.39, 0.38], "nice": false, "zero": false}, "axis": {"title": "Log mortality rate", "values": [-10, -8, -6, -4, -2, 0], "domain": true}},
        "detail": {"field": "c", "type": "nominal"}
      }
    },
    {
      "data": {"name": "gray"},
      "mark": {"type": "line", "color": "#666666", "strokeWidth": 1.15, "interpolate": "monotone", "clip": true},
      "encoding": {
        "x": {"field": "a", "type": "quantitative", "scale": {"domain": [-4.09, 102.63], "nice": false, "zero": false}, "axis": {"orient": "top", "title": "French male log mortality rates", "ticks": false, "labels": false, "domain": true, "domainColor": "black", "domainWidth": 1, "titleFontWeight": "bold", "titleFontSize": 16, "titleX": 245.5, "titleY": -10, "titleAlign": "center", "titleBaseline": "alphabetic"}},
        "y": {"field": "v", "type": "quantitative", "scale": {"domain": [-10.39, 0.38], "nice": false, "zero": false}, "axis": {"title": "Log mortality rate", "values": [-10, -8, -6, -4, -2, 0], "domain": true}},
        "detail": {"field": "c", "type": "nominal"}
      }
    },
    {
      "data": {"values": [{"top": 0.375}]},
      "mark": {"type": "rule", "color": "#000000", "strokeWidth": 1},
      "encoding": {"y": {"field": "top", "type": "quantitative"}}
    }
  ],
  "resolve": {"axis": {"x": "independent"}}
}
]
}
